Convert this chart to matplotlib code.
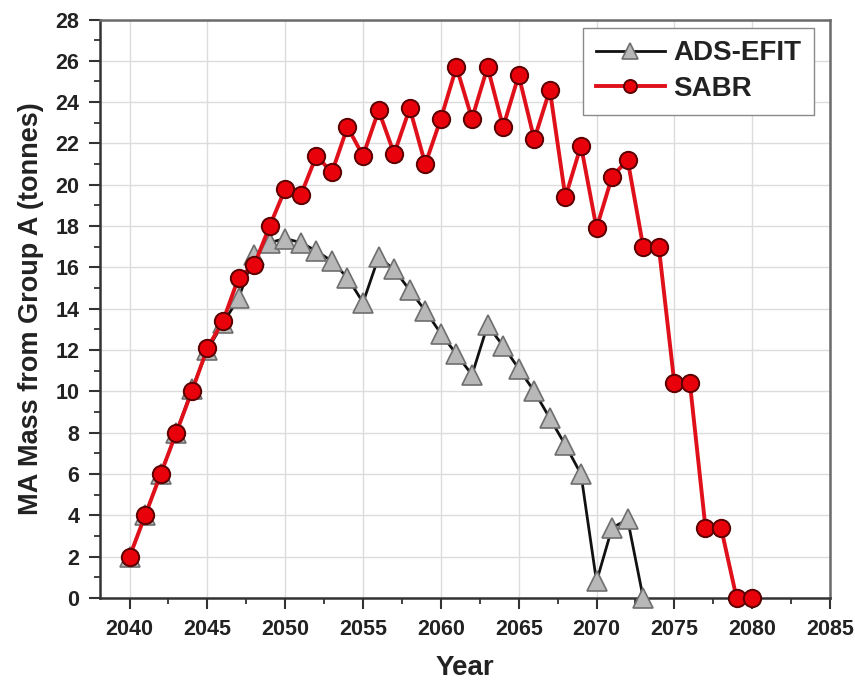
import matplotlib
matplotlib.use("Agg")
import matplotlib.pyplot as plt
from matplotlib.ticker import MultipleLocator

plt.rcParams['font.family'] = ['Liberation Sans', 'DejaVu Sans']
plt.rcParams['font.weight'] = 'bold'

years_ads = list(range(2040, 2074))
ads_efit = [2.0, 4.0, 6.0, 8.0, 10.1, 12.0, 13.3, 14.5, 16.6, 17.2,
            17.4, 17.2, 16.8, 16.3, 15.5, 14.3, 16.5, 15.9, 14.9, 13.9,
            12.8, 11.8, 10.8, 13.2, 12.2, 11.1, 10.0, 8.7, 7.4, 6.0,
            0.8, 3.4, 3.8, 0.0]

years_sabr = list(range(2040, 2081))
sabr = [2.0, 4.0, 6.0, 8.0, 10.0, 12.1, 13.4, 15.5, 16.1, 18.0,
        19.8, 19.5, 21.4, 20.6, 22.8, 21.4, 23.6, 21.5, 23.7, 21.0,
        23.2, 25.7, 23.2, 25.7, 22.8, 25.3, 22.2, 24.6, 19.4, 21.9,
        17.9, 20.4, 21.2, 17.0, 17.0, 10.4, 10.4, 3.4, 3.4, 0.0, 0.0]

x_ticks = [2040, 2045, 2050, 2055, 2060, 2065, 2070, 2075, 2080, 2085]
y_ticks = list(range(0, 29, 2))

fig = plt.figure(figsize=(8.55, 6.85), dpi=100)
ax = fig.add_axes([100/855, 1 - 598/685, 730/855, 578.5/685])

ax.plot(years_ads, ads_efit, color='#111111', lw=2.0, marker='^',
        markersize=15, markerfacecolor='#b8b8b8', markeredgecolor='#6e6e6e',
        markeredgewidth=1.2, label='ADS-EFIT', zorder=3, clip_on=False)
ax.plot(years_sabr, sabr, color='#e0101a', lw=2.8, marker='o',
        markersize=12.5, markerfacecolor='#e8000b', markeredgecolor='#5a0000',
        markeredgewidth=1.4, label='SABR', zorder=4, clip_on=False)

ax.set_xlim(2038.1, 2085)
ax.set_ylim(0, 28)
ax.set_xticks(x_ticks)
ax.set_yticks(y_ticks)
ax.xaxis.set_minor_locator(MultipleLocator(2.5))
ax.yaxis.set_minor_locator(MultipleLocator(1))

ax.grid(True, which='major', color='#dcdcdc', lw=1.0, zorder=0)
ax.set_axisbelow(True)

ax.tick_params(axis='both', which='major', direction='out', length=8, width=1.5,
               color='#333333', labelsize=15.5, labelcolor='#222222', pad=7)
ax.tick_params(axis='both', which='minor', direction='out', length=4.5, width=1.3,
               color='#333333')
for lab in ax.get_xticklabels() + ax.get_yticklabels():
    lab.set_fontweight('bold')

for side in ['left', 'bottom']:
    ax.spines[side].set_color('#333333')
    ax.spines[side].set_linewidth(1.8)
for side in ['top', 'right']:
    ax.spines[side].set_color('#6a6a6a')
    ax.spines[side].set_linewidth(1.8)

ax.set_xlabel('Year', fontsize=20, fontweight='bold', color='#222222', labelpad=11)
ax.set_ylabel('MA Mass from Group A (tonnes)', fontsize=19.5, fontweight='bold',
              color='#222222', labelpad=8)

leg = ax.legend(loc='upper right', bbox_to_anchor=(1 - 16/730, 1 - 8.5/578.5),
                borderaxespad=0, fontsize=20, handlelength=2.5, handletextpad=0.3,
                labelspacing=0.35, borderpad=0.45, markerscale=0.75,
                fancybox=False, framealpha=1, edgecolor='#8a8a8a')
leg.get_frame().set_linewidth(1.0)
for t in leg.get_texts():
    t.set_fontweight('bold')
    t.set_color('#222222')

fig.savefig('out.png', dpi=100)
